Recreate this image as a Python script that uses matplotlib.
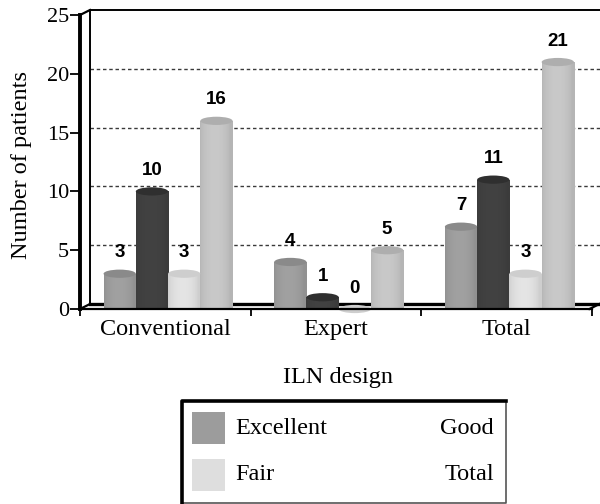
import numpy as np
import matplotlib
matplotlib.use("Agg")
import matplotlib.pyplot as plt
import matplotlib.transforms as mtransforms
from matplotlib.patches import Ellipse, Rectangle
from matplotlib.lines import Line2D
from matplotlib import font_manager

# Outcome counts per ILN design
groups = ["Conventional", "Expert", "Total"]
series = ["Excellent", "Good", "Fair", "Total"]
excellent = [3, 4, 7]
good = [10, 1, 11]
fair = [3, 0, 3]
total = [16, 5, 21]
yticks = [0, 5, 10, 15, 20, 25]

body_cols = ["#9c9c9c", "#404040", "#dedede", "#c3c3c3"]
top_cols = ["#8a8a8a", "#2f2f2f", "#cecece", "#aeaeae"]

plt.rcParams["font.serif"] = ["Liberation Serif", "Times New Roman", "DejaVu Serif"]
plt.rcParams["font.sans-serif"] = ["Liberation Sans", "Arial", "DejaVu Sans"]
serif_fp = font_manager.FontProperties(family="serif")
serif = "serif"
sans = "sans-serif"

fig = plt.figure(figsize=(6, 5.04), dpi=100)
W, H = 600, 504


def px(x, y):
    # pixel position (from top-left) -> figure fraction
    return x / W, (H - y) / H


ax = fig.add_axes([80 / W, (H - 309) / H, 512 / W, 294 / H])
ax.set_xlim(-0.5, 2.5)
ax.set_ylim(0, 25)

# back wall is shifted right/up to fake the 3D depth
depth = mtransforms.ScaledTranslation(0.10, 0.05, fig.dpi_scale_trans)
wall = ax.transAxes + depth
grid_tr = mtransforms.blended_transform_factory(ax.transAxes, ax.transData) + depth

for yv in yticks[1:-1]:
    ax.add_line(Line2D([0, 1.0], [yv, yv], transform=grid_tr, color="#3a3a3a",
                       lw=1.0, ls=(0, (2.5, 2)), clip_on=False, zorder=0.5))

ax.add_line(Line2D([0, 0, 1.0], [0, 1, 1], transform=wall, color="black",
                   lw=1.4, clip_on=False, zorder=0.6))
ax.add_line(Line2D([0, 0.995], [0, 0], transform=wall, color="black",
                   lw=2.4, clip_on=False, zorder=0.6))
# depth edges joining the front frame to the wall
for xa, ya in [(0, 1), (0, 0), (0.995, 0)]:
    x0, y0 = ax.transAxes.transform((xa, ya))
    x1, y1 = wall.transform((xa, ya))
    fig.add_artist(Line2D([x0 / W, x1 / W], [y0 / H, y1 / H], color="black",
                          lw=1.6, transform=fig.transFigure))

# cylinders
bw = 0.189
shift = 0.016
data = [excellent, good, fair, total]
xs = np.arange(len(groups))
t = np.linspace(0, 1, 64)
shade = 0.93 + 0.1 * np.sin(np.pi * np.clip(t * 1.1, 0, 1)) ** 0.6

for i, vals in enumerate(data):
    pos = xs + (i - 1.5) * bw + shift
    bars = ax.bar(pos, vals, width=bw, color=body_cols[i], edgecolor="none", zorder=1)
    base = np.array(matplotlib.colors.to_rgb(body_cols[i]))
    grad = np.clip(base[None, None, :] * shade[None, :, None], 0, 1)
    for b, x, v in zip(bars, pos, vals):
        if v > 0:
            im = ax.imshow(grad, extent=[x - bw / 2, x + bw / 2, 0, v], aspect="auto",
                           interpolation="bilinear", zorder=1.1)
            im.set_clip_path(b)
        ax.add_patch(Ellipse((x, v), bw, 0.7, facecolor=top_cols[i], edgecolor="none",
                             zorder=1.2, clip_on=False))
        ax.text(x, v + 1.05, str(v), ha="center", va="bottom", fontsize=13.5,
                fontweight="bold", family=sans, zorder=3)

ax.set_xlim(-0.5, 2.5)
ax.set_ylim(0, 25)

for s in ["top", "right"]:
    ax.spines[s].set_visible(False)
ax.spines["left"].set_linewidth(2.8)
ax.spines["bottom"].set_linewidth(1.6)
ax.set_facecolor("none")

ax.set_yticks(yticks)
ax.set_yticklabels([str(v) for v in yticks], family=serif, fontsize=16)
ax.tick_params(axis="y", direction="out", length=7, width=1.3, pad=1)
ax.set_xticks([-0.5, 0.5, 1.5, 2.5])
ax.set_xticklabels([])
ax.set_xticks(xs, minor=True)
ax.set_xticklabels(groups, minor=True, family=serif, fontsize=17.5)
ax.tick_params(axis="x", which="major", direction="out", length=5, width=1.3)
ax.tick_params(axis="x", which="minor", length=0, pad=7)

fig.text(*px(22, 165), "Number of patients", rotation=90, ha="center", va="center",
         family=serif, fontsize=17.5)
fig.text(*px(338, 377), "ILN design", ha="center", va="center", family=serif, fontsize=17.5)

# legend box
lx0, ly0, lx1, ly1 = 182, 401, 506, 503
fig.add_artist(Line2D([lx0 / W, lx1 / W, lx1 / W, lx0 / W], [(H - ly0) / H, (H - ly0) / H, (H - ly1) / H, (H - ly1) / H],
                      color="#555555", lw=1.2, transform=fig.transFigure))
fig.add_artist(Line2D([lx0 / W, lx0 / W, lx1 / W], [(H - ly1) / H, (H - ly0) / H, (H - ly0) / H],
                      color="black", lw=2.6, transform=fig.transFigure))
legend_rows = [(series[0], series[1], body_cols[0], 428),
               (series[2], series[3], body_cols[2], 475)]
for left_name, right_name, col, yc in legend_rows:
    sx, sy = px(192, yc + 16)
    fig.add_artist(Rectangle((sx, sy), 33 / W, 32 / H, facecolor=col, edgecolor="none",
                             transform=fig.transFigure))
    fig.text(*px(235, yc), left_name, ha="left", va="center", family=serif, fontsize=17.5)
    fig.text(*px(494, yc), right_name, ha="right", va="center", family=serif, fontsize=17.5)

fig.savefig("out.png", dpi=100)
